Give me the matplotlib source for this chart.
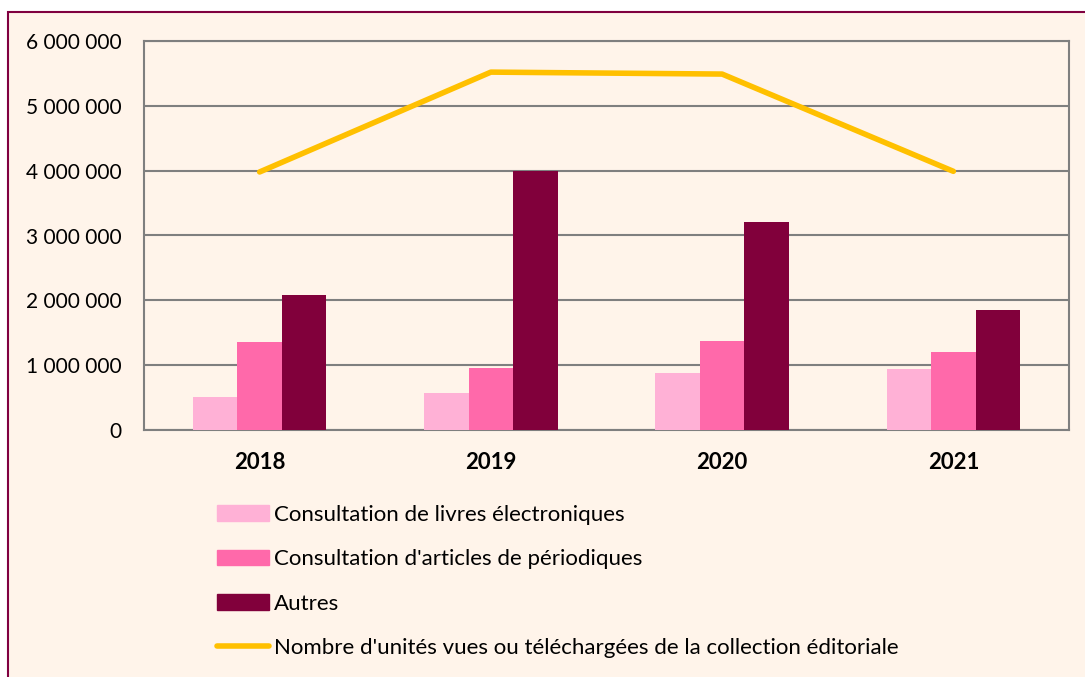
import matplotlib
matplotlib.use("Agg")
import matplotlib.pyplot as plt
import numpy as np
from matplotlib.patches import Rectangle, Patch
from matplotlib.lines import Line2D
from matplotlib.ticker import FuncFormatter

years = ["2018", "2019", "2020", "2021"]
livres = [510000, 566000, 879000, 940000]
articles = [1357000, 950000, 1373000, 1210000]
autres = [2080000, 3990000, 3210000, 1850000]
total = [3980000, 5520000, 5490000, 3990000]
series_labels = ["Consultation de livres électroniques",
                 "Consultation d'articles de périodiques",
                 "Autres",
                 "Nombre d'unités vues ou téléchargées de la collection éditoriale"]
colors = ["#FFB1D6", "#FF69AA", "#81003B", "#FFC000"]
yticks = [0, 1000000, 2000000, 3000000, 4000000, 5000000, 6000000]

plt.rcParams['font.family'] = ['Lato', 'DejaVu Sans']

W, H = 1085, 677
fig = plt.figure(figsize=(W / 100, H / 100), dpi=100)
fig.patch.set_facecolor("white")
bg = "#FFF4EA"
bgax = fig.add_axes([0, 0, 1, 1], zorder=0)
bgax.set_axis_off()
bgax.add_patch(Rectangle((8 / W, -0.1), 1.2, 1 - 12 / H + 0.1, transform=bgax.transAxes,
                         facecolor=bg, edgecolor="#800040", linewidth=1.5, clip_on=False))

ax = fig.add_axes([144 / W, 1 - 430 / H, (1069 - 144) / W, (430 - 41) / H], zorder=2)
ax.set_facecolor("none")
x = np.arange(len(years))
w = 0.1925
b1 = ax.bar(x - w, livres, w, color=colors[0], zorder=3)
b2 = ax.bar(x, articles, w, color=colors[1], zorder=3)
b3 = ax.bar(x + w, autres, w, color=colors[2], zorder=3)
ln, = ax.plot(x, total, color=colors[3], linewidth=4, zorder=4, solid_capstyle="round")

ax.set_xlim(-0.5, 3.5)
ax.set_ylim(0, 6000000)
ax.set_yticks(yticks)
ax.yaxis.set_major_formatter(FuncFormatter(lambda v, p: f"{int(v):,}".replace(",", " ")))
ax.set_xticks(x)
ax.set_xticklabels(years, fontweight="bold", fontsize=16)
ax.tick_params(axis="y", length=0, pad=16, labelsize=15)
ax.tick_params(axis="x", length=0, pad=16)
ax.grid(axis="y", color="#7F7F7F", linewidth=1.5, zorder=1)
for s in ax.spines.values():
    s.set_color("#7F7F7F")
    s.set_linewidth(1.5)

handles = [Patch(color=colors[0]), Patch(color=colors[1]), Patch(color=colors[2]),
           Line2D([], [], color=colors[3], linewidth=4, solid_capstyle="round")]
leg = fig.legend(handles, series_labels, loc="upper left", bbox_to_anchor=(208 / W, 1 - 496 / H),
                 frameon=False, fontsize=16, labelspacing=1.1, handlelength=2.36,
                 handletextpad=0.22, borderaxespad=0)
leg.set_zorder(3)

fig.savefig("out.png", dpi=100, facecolor=fig.get_facecolor())
